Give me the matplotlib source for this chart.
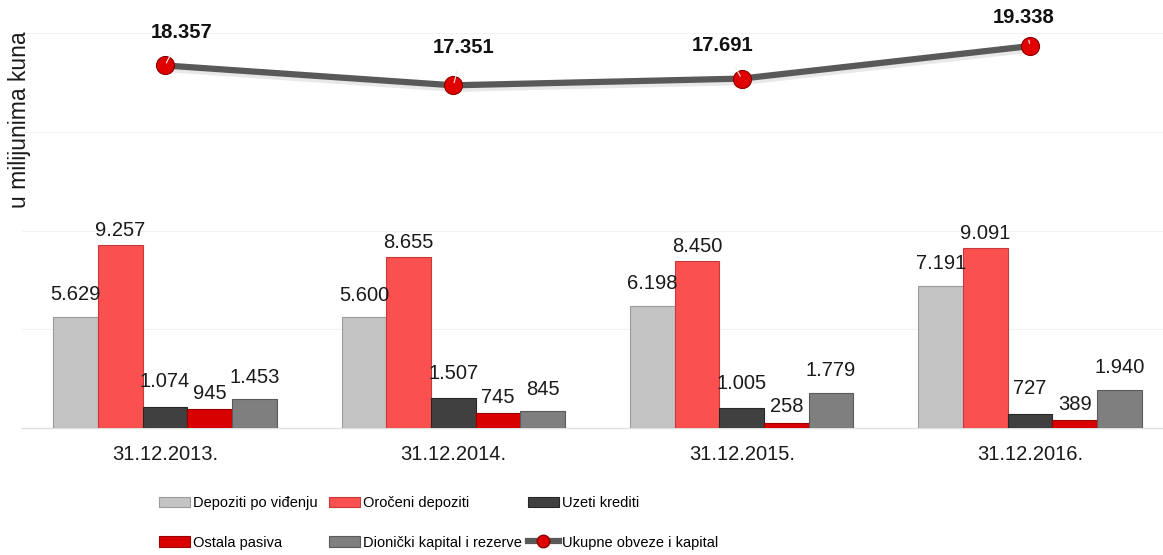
import matplotlib
matplotlib.use("Agg")
import matplotlib.pyplot as plt
import matplotlib.patheffects as pe
from matplotlib.patches import Rectangle
from matplotlib.lines import Line2D
import numpy as np

categories = ["31.12.2013.", "31.12.2014.", "31.12.2015.", "31.12.2016."]
series_names = ["Depoziti po viđenju", "Oročeni depoziti", "Uzeti krediti",
                "Ostala pasiva", "Dionički kapital i rezerve"]
depoziti_po_vidjenju = [5629, 5600, 6198, 7191]
oroceni_depoziti = [9257, 8655, 8450, 9091]
uzeti_krediti = [1074, 1507, 1005, 727]
ostala_pasiva = [945, 745, 258, 389]
dionicki_kapital = [1453, 845, 1779, 1940]
line_name = "Ukupne obveze i kapital"
ukupno = [18357, 17351, 17691, 19338]

series = [depoziti_po_vidjenju, oroceni_depoziti, uzeti_krediti, ostala_pasiva, dionicki_kapital]
colors = ["#C4C4C4", "#FA5050", "#404040", "#D80000", "#7F7F7F"]
edges = ["#9A9A9A", "#C83A3A", "#262626", "#9A0000", "#5A5A5A"]
label_gap_px = [22, 15, 25, 16, 22]          # vertical offset of value labels (style)
line_label_off_px = [(17, 33), (10, 38), (-19, 33), (-6, 29)]  # label placement (style)

def fmt(v):
    return f"{v:,}".replace(",", ".")

W, H = 1163, 555
fig = plt.figure(figsize=(W / 100, H / 100), dpi=100)
plt.rcParams['font.family'] = ['Liberation Sans', 'DejaVu Sans']

ax = fig.add_axes([22 / W, 1 - 428 / H, 1 - 22 / W, (428 - 33) / H])
x = np.arange(len(categories))
bw = 0.155
px2pt = 0.72

for i, (vals, c, ec) in enumerate(zip(series, colors, edges)):
    pos = x + (i - 2) * bw
    ax.bar(pos, vals, width=bw, color=c, edgecolor=ec, linewidth=0.8, zorder=3)
    for p, v in zip(pos, vals):
        ax.annotate(fmt(v), (p, v), xytext=(0, label_gap_px[i] * px2pt),
                    textcoords="offset points", ha="center", va="center",
                    fontsize=14.5, color="#1a1a1a", zorder=5)

ax.plot(x, ukupno, color="#595959", lw=4.5, zorder=4,
        path_effects=[pe.SimpleLineShadow(offset=(0, -2.5), shadow_color="#999999", alpha=0.22),
                      pe.Normal()])
ax.plot(x, ukupno, linestyle="none", marker="o", markersize=13,
        markerfacecolor="#E00000", markeredgecolor="#8A0000", markeredgewidth=0.8, zorder=6)
for xi, v, (dx, dy) in zip(x, ukupno, line_label_off_px):
    ax.annotate(fmt(v), (xi, v), xytext=(dx * px2pt, dy * px2pt), textcoords="offset points",
                ha="center", va="center", fontsize=14.5, fontweight="bold", color="#111111",
                zorder=7,
                arrowprops=dict(arrowstyle="-", color="#F0F0F0", lw=0.8, shrinkA=8, shrinkB=2))

ax.set_xlim(-0.496, 3.461)
ax.set_ylim(0, 20000)
ax.set_yticks([0, 5000, 10000, 15000, 20000])
ax.set_yticklabels([])
ax.tick_params(axis="y", length=0)
ax.yaxis.grid(True, color="#F3F3F3", lw=0.8, zorder=0)
ax.set_axisbelow(True)
ax.set_xticks(x)
ax.set_xticklabels(categories, fontsize=14.5, color="#1a1a1a")
ax.tick_params(axis="x", length=0, pad=12)
for s in ["top", "right", "left"]:
    ax.spines[s].set_visible(False)
ax.spines["bottom"].set_color("#E0E0E0")
ax.spines["bottom"].set_linewidth(1.0)

fig.text(20 / W, 1 - 120 / H, "u milijunima kuna", rotation=90, ha="center", va="center",
         fontsize=16.5, color="#1a1a1a")

# legends: three columns, two rows
def bar_handle(i):
    return Rectangle((0, 0), 1, 1, facecolor=colors[i], edgecolor=edges[i], linewidth=0.8)

line_handle = Line2D([0], [0], color="#595959", lw=4.5, marker="o", markersize=9,
                     markerfacecolor="#E00000", markeredgecolor="#8A0000")

cols = [
    ([bar_handle(0), bar_handle(3)], [series_names[0], series_names[3]], 159),
    ([bar_handle(1), bar_handle(4)], [series_names[1], series_names[4]], 329),
    ([bar_handle(2), line_handle], [series_names[2], line_name], 528),
]
legfont = dict(family=['Liberation Sans', 'DejaVu Sans'], size=10.5)
for handles, labels, xpx in cols:
    fig.legend(handles, labels, loc="upper left",
               bbox_to_anchor=(xpx / W, 1 - 496 / H), frameon=False,
               prop=legfont, handlelength=2.1, handleheight=0.75,
               handletextpad=0.25, labelspacing=1.75, borderaxespad=0,
               borderpad=0)

fig.savefig("out.png", dpi=100)
